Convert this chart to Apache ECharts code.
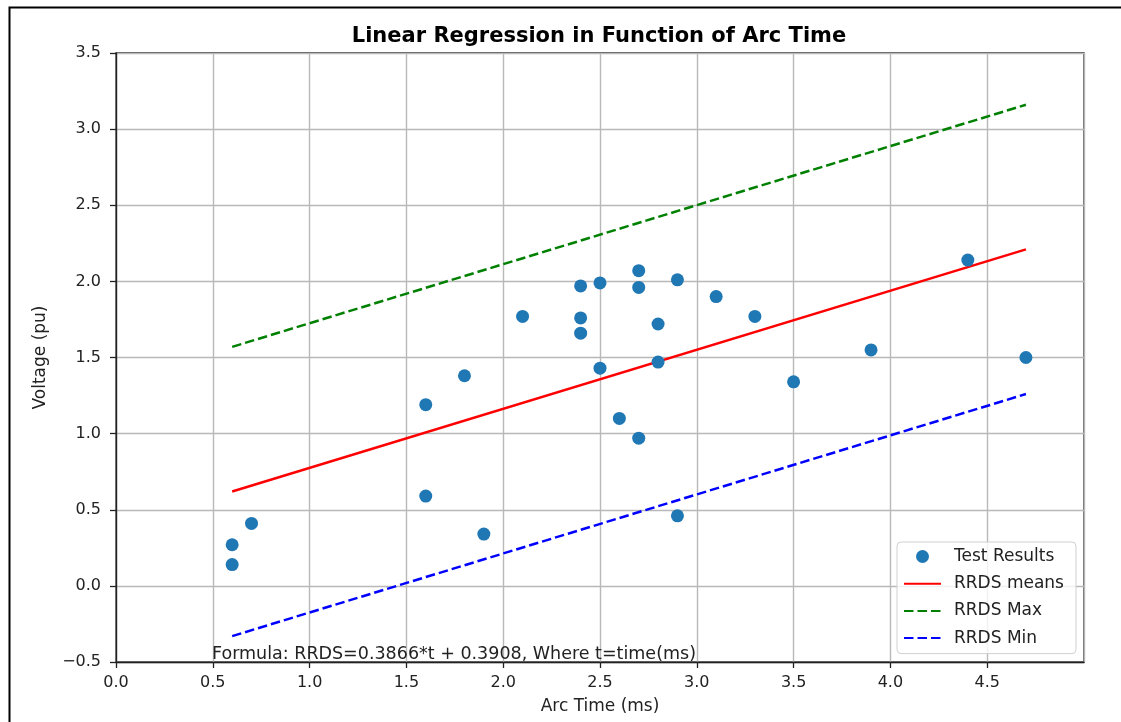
<!DOCTYPE html>
<html>
<head>
<meta charset="utf-8">
<script src="https://cdn.jsdelivr.net/npm/echarts@6/dist/echarts.min.js"></script>
<style>
  html, body { margin: 0; padding: 0; background: #fff; }
  #chart { width: 1121px; height: 722px; }
</style>
</head>
<body>
<div id="chart"></div>
<script>
// test results
var arcTime = [0.6, 0.6, 0.7, 1.6, 1.6, 1.8, 1.9, 2.1, 2.4, 2.4, 2.4, 2.5, 2.5, 2.6, 2.7, 2.7, 2.7, 2.8, 2.8, 2.9, 2.9, 3.1, 3.3, 3.5, 3.9, 4.4, 4.7]
var voltage = [0.27, 0.14, 0.41, 1.19, 0.59, 1.38, 0.34, 1.77, 1.97, 1.76, 1.66, 1.99, 1.43, 1.10, 2.07, 1.96, 0.97, 1.72, 1.47, 2.01, 0.46, 1.90, 1.77, 1.34, 1.55, 2.14, 1.50]

// regression lines, endpoints
var lineT = [0.6, 4.7]
var meanV = [0.62, 2.21]
var maxV = [1.57, 3.16]
var minV = [-0.33, 1.26]

var FONT = 'DejaVu Sans'

function pairs(xs, ys) {
    return xs.map(function (x, i) { return [x, ys[i]] })
}
function fmt(v) {
    return v.toFixed(1).replace('-', '\u2212')
}

var chart = echarts.init(document.getElementById('chart'))
chart.setOption({
    animation: false,
    title: {
        text: 'Linear Regression in Function of Arc Time',
        left: 594,
        top: 21,
        textAlign: 'center',
        textStyle: { fontFamily: FONT, fontSize: 21, fontWeight: 'bold', color: '#000' }
    },
    grid: {
        left: 116, top: 53, right: 37, bottom: 60,
        show: true, borderColor: '#222', borderWidth: 1.3, backgroundColor: '#fff'
    },
    legend: {
        orient: 'vertical',
        left: 897,
        top: 542,
        padding: [6, 12, 7, 6],
        itemGap: 10.2,
        itemWidth: 37,
        itemHeight: 13,
        backgroundColor: 'rgba(255,255,255,0.8)',
        borderColor: '#d0d0d0',
        borderWidth: 1,
        borderRadius: 4,
        textStyle: { fontFamily: FONT, fontSize: 17, lineHeight: 16, color: '#222', padding: [0, 0, 0, 8] },
        data: [
            { name: 'Test Results', icon: 'circle', itemStyle: { color: '#1f77b4' } },
            { name: 'RRDS means', itemStyle: { opacity: 0 } },
            { name: 'RRDS Max', itemStyle: { opacity: 0 } },
            { name: 'RRDS Min', itemStyle: { opacity: 0 } }
        ]
    },
    xAxis: {
        type: 'value',
        min: 0, max: 5, interval: 0.5,
        name: 'Arc Time (ms)',
        nameLocation: 'middle',
        nameGap: 36,
        nameTextStyle: { fontFamily: FONT, fontSize: 17, color: '#222' },
        axisLine: { show: true, onZero: false, lineStyle: { color: '#222', width: 1.3 } },
        axisTick: { show: true, length: 6, lineStyle: { color: '#222', width: 1.3 } },
        axisLabel: {
            fontFamily: FONT, fontSize: 16, color: '#222', margin: 13,
            showMaxLabel: false,
            formatter: fmt
        },
        splitLine: { show: true, lineStyle: { color: '#b8b8b8', width: 1.4 } }
    },
    yAxis: {
        type: 'value',
        min: -0.5, max: 3.5, interval: 0.5,
        name: 'Voltage (pu)',
        nameLocation: 'middle',
        nameGap: 67,
        nameTextStyle: { fontFamily: FONT, fontSize: 17, color: '#222' },
        axisLine: { show: true, onZero: false, lineStyle: { color: '#222', width: 1.3 } },
        axisTick: { show: true, length: 6, lineStyle: { color: '#222', width: 1.3 } },
        axisLabel: { fontFamily: FONT, fontSize: 16, color: '#222', margin: 15, formatter: fmt },
        splitLine: { show: true, lineStyle: { color: '#b8b8b8', width: 1.4 } }
    },
    series: [{
        name: 'Test Results',
        type: 'scatter',
        symbolSize: 13,
        itemStyle: { color: '#1f77b4', opacity: 1 },
        data: pairs(arcTime, voltage),
        z: 5
    }, {
        name: 'RRDS means',
        type: 'line',
        symbol: 'none',
        lineStyle: { color: '#ff0000', width: 2.5 },
        itemStyle: { color: '#ff0000' },
        data: pairs(lineT, meanV)
    }, {
        name: 'RRDS Max',
        type: 'line',
        symbol: 'none',
        lineStyle: { color: '#008000', width: 2.5, type: [9.5, 4] },
        itemStyle: { color: '#008000' },
        data: pairs(lineT, maxV)
    }, {
        name: 'RRDS Min',
        type: 'line',
        symbol: 'none',
        lineStyle: { color: '#0000ff', width: 2.5, type: [9.5, 4] },
        itemStyle: { color: '#0000ff' },
        data: pairs(lineT, minV)
    }],
    graphic: [{
        type: 'rect',
        left: 7, top: 5,
        shape: { width: 1200, height: 800 },
        style: { fill: 'none', stroke: '#000', lineWidth: 2 },
        silent: true
    }, {
        type: 'text',
        left: 212, top: 645,
        z: 100,
        style: {
            text: 'Formula: RRDS=0.3866*t + 0.3908, Where t=time(ms)',
            fontFamily: FONT, fontSize: 17.5, fill: '#222'
        }
    }]
})
</script>
</body>
</html>
